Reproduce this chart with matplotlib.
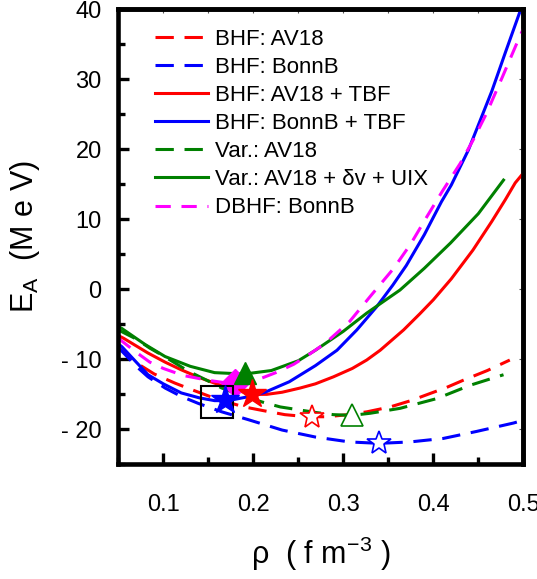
import numpy as np
import matplotlib
matplotlib.use('Agg')
import matplotlib.pyplot as plt
from matplotlib.ticker import MultipleLocator, FuncFormatter

plt.rcParams['font.family'] = ['Liberation Sans', 'DejaVu Sans']
plt.rcParams['mathtext.default'] = 'regular'

# --- curves: density (fm^-3) vs E/A (MeV) ---
bhf_av18_x = [0.05, 0.07, 0.09, 0.113, 0.133, 0.16, 0.19, 0.21, 0.235, 0.26, 0.282,
              0.305, 0.326, 0.352, 0.375, 0.396, 0.415, 0.433, 0.46, 0.485]
bhf_av18_y = [-8.3, -10.5, -12.1, -13.4, -14.4, -15.7, -16.8, -17.3, -17.9, -18.2, -18.2,
              -17.9, -17.5, -16.8, -15.9, -14.9, -14.0, -13.0, -11.6, -10.1]

bhf_bonnb_x = [0.05, 0.07, 0.083, 0.102, 0.12, 0.139, 0.165, 0.194, 0.232, 0.269, 0.307,
               0.34, 0.374, 0.411, 0.448, 0.489, 0.5]
bhf_bonnb_y = [-8.3, -11.0, -12.5, -14.1, -15.3, -16.3, -17.5, -18.6, -20.1, -21.1, -21.8,
               -22.0, -21.8, -21.3, -20.3, -19.1, -18.7]

bhf_av18_tbf_x = [0.05, 0.056, 0.083, 0.102, 0.12, 0.14, 0.157, 0.18, 0.2, 0.215, 0.232,
                  0.252, 0.269, 0.289, 0.31, 0.326, 0.341, 0.367, 0.385, 0.4, 0.42, 0.444,
                  0.465, 0.48, 0.491, 0.5]
bhf_av18_tbf_y = [-6.6, -7.0, -9.1, -10.4, -11.5, -12.6, -13.4, -14.4, -15.0, -15.0, -14.7,
                  -14.1, -13.5, -12.5, -11.3, -10.1, -8.7, -5.8, -3.5, -1.5, 1.5, 5.6,
                  9.7, 12.8, 15.2, 16.6]

bhf_bonnb_tbf_x = [0.05, 0.054, 0.083, 0.1, 0.12, 0.14, 0.157, 0.17, 0.18, 0.2, 0.213,
                   0.24, 0.269, 0.293, 0.315, 0.337, 0.355, 0.37, 0.39, 0.409, 0.42, 0.439,
                   0.448, 0.465, 0.48, 0.5]
bhf_bonnb_tbf_y = [-7.8, -8.2, -12.2, -13.5, -14.8, -15.5, -15.9, -15.9, -15.7, -15.2, -14.7,
                   -13.2, -10.9, -8.7, -5.8, -2.5, 0.6, 3.4, 7.8, 12.5, 14.9, 19.9,
                   22.8, 28.3, 33.8, 41.0]

var_av18_x = [0.05, 0.07, 0.085, 0.1, 0.128, 0.15, 0.165, 0.185, 0.21, 0.23, 0.25, 0.27,
              0.289, 0.31, 0.33, 0.363, 0.404, 0.441, 0.478]
var_av18_y = [-5.8, -7.1, -8.4, -9.5, -11.7, -13.1, -14.1, -15.1, -16.1, -16.8, -17.2, -17.6,
              -17.9, -18.0, -17.7, -17.0, -15.6, -13.7, -12.2]

var_uix_x = [0.05, 0.054, 0.08, 0.102, 0.13, 0.157, 0.19, 0.22, 0.25, 0.269, 0.3, 0.326,
             0.363, 0.39, 0.419, 0.45, 0.478]
var_uix_y = [-5.3, -5.6, -7.9, -9.6, -11.0, -11.9, -12.1, -11.6, -10.2, -8.7, -6.0, -3.4,
             -0.1, 3.0, 6.6, 10.8, 15.6]

dbhf_x = [0.05, 0.07, 0.085, 0.1, 0.122, 0.15, 0.172, 0.19, 0.209, 0.225, 0.245, 0.262,
          0.28, 0.307, 0.33, 0.356, 0.375, 0.393, 0.41, 0.43, 0.445, 0.459, 0.477, 0.496, 0.5]
dbhf_y = [-7.0, -9.0, -10.4, -11.3, -12.3, -13.0, -13.4, -13.3, -12.7, -11.9, -10.7, -9.3,
          -7.7, -4.6, -1.0, 3.0, 6.5, 10.4, 14.0, 18.0, 21.5, 25.1, 30.4, 36.1, 37.2]

# saturation points
sat_bhf_av18 = (0.265, -18.2)
sat_bhf_bonnb = (0.34, -21.9)
sat_bhf_av18_tbf = (0.198, -14.9)
sat_bhf_bonnb_tbf = (0.169, -15.8)
sat_var_av18 = (0.31, -18.0)
sat_var_uix = (0.191, -12.0)
sat_dbhf = (0.18, -13.4)
empirical = (0.16, -16.05)

RED, BLUE, GREEN, MAG = '#ff0000', '#0000ff', '#008000', '#ff00ff'
lw = 2.2
dash = (6, 3.5)

fig = plt.figure(figsize=(5.37, 5.79), dpi=100)
ax = fig.add_axes([0.2203, 0.198, 0.7542, 0.786])

ax.plot(bhf_av18_x, bhf_av18_y, color=RED, lw=lw, dashes=dash, label='BHF: AV18')
ax.plot(bhf_bonnb_x, bhf_bonnb_y, color=BLUE, lw=lw, dashes=dash, label='BHF: BonnB')
ax.plot(bhf_av18_tbf_x, bhf_av18_tbf_y, color=RED, lw=lw, label='BHF: AV18 + TBF')
ax.plot(bhf_bonnb_tbf_x, bhf_bonnb_tbf_y, color=BLUE, lw=lw, label='BHF: BonnB + TBF')
ax.plot(var_av18_x, var_av18_y, color=GREEN, lw=lw, dashes=dash, label='Var.: AV18')
ax.plot(var_uix_x, var_uix_y, color=GREEN, lw=lw, label='Var.: AV18 + δv + UIX')
ax.plot(dbhf_x, dbhf_y, color=MAG, lw=lw, dashes=(5, 3.5), label='DBHF: BonnB')

# markers
ax.plot(*sat_dbhf, marker='D', ms=14, color=MAG, mec=MAG, zorder=5)
ax.plot(*sat_var_uix, marker='^', ms=16, color=GREEN, mec=GREEN, zorder=6)
ax.plot(*sat_bhf_av18_tbf, marker='*', ms=21, color=RED, mec=RED, zorder=6)
ax.plot(*empirical, marker='s', ms=23, mfc='none', mec='black', mew=1.5, zorder=6)
ax.plot(*sat_bhf_bonnb_tbf, marker='*', ms=21, color=BLUE, mec=BLUE, zorder=7)
ax.plot(*sat_bhf_av18, marker='*', ms=18, mfc='white', mec=RED, mew=1.2, zorder=6)
ax.plot(*sat_var_av18, marker='^', ms=16, mfc='white', mec=GREEN, mew=1.2, zorder=6)
ax.plot(*sat_bhf_bonnb, marker='*', ms=18, mfc='white', mec=BLUE, mew=1.2, zorder=6)

ax.set_xlim(0.05, 0.5)
ax.set_ylim(-25, 40)
ax.xaxis.set_major_locator(MultipleLocator(0.1))
ax.xaxis.set_minor_locator(MultipleLocator(0.05))
ax.yaxis.set_major_locator(MultipleLocator(10))
ax.yaxis.set_minor_locator(MultipleLocator(5))
ax.xaxis.set_major_formatter(FuncFormatter(lambda v, p: f'{v:.1f}'))
ax.yaxis.set_major_formatter(FuncFormatter(
    lambda v, p: f'- {abs(int(round(v)))}' if v < 0 else f'{int(round(v))}'))

for s in ax.spines.values():
    s.set_linewidth(3.3)
ax.tick_params(which='both', direction='in', labelsize=17)
ax.tick_params(which='major', length=8, width=2.4)
ax.tick_params(which='minor', length=5, width=2.4)
ax.tick_params(axis='x', pad=21)
ax.tick_params(axis='y', pad=12)

# faint small ticks on top and right
for sec in (ax.secondary_xaxis('top'), ax.secondary_yaxis('right')):
    sec.tick_params(which='both', direction='in', length=3, width=0.8, color='#555555',
                    labeltop=False, labelright=False)
    for s in sec.spines.values():
        s.set_linewidth(3.3)

ax.set_ylabel('E$_\\mathregular{A}$  (M e V)', fontsize=22, labelpad=14)
ax.set_xlabel('ρ  ( f m$^{-3}$ )', fontsize=22, labelpad=14)

ax.legend(loc='upper left', bbox_to_anchor=(0.068, 0.977), frameon=False, fontsize=16,
          handlelength=2.4, handletextpad=0.3, labelspacing=0.32, borderaxespad=0)

fig.savefig('out.png', dpi=100)
